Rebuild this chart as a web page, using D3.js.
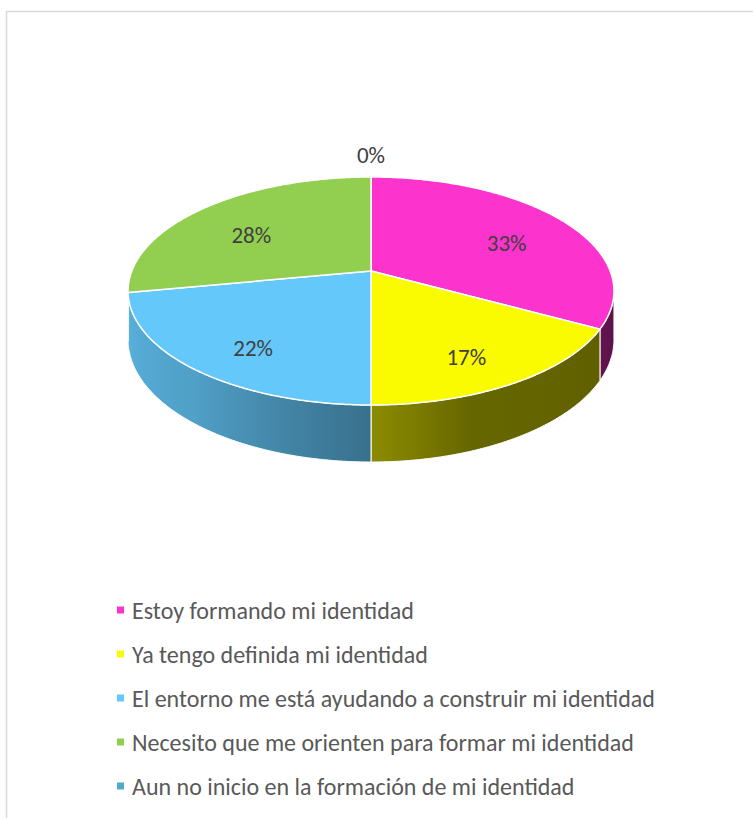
<!DOCTYPE html>
<html>
<head>
<meta charset="utf-8">
<script src="https://cdn.jsdelivr.net/npm/d3@7"></script>
<style>
  html, body { margin: 0; padding: 0; background: #fff; }
  svg { display: block; }
  text { font-family: Carlito, Calibri, Lato, "Open Sans", sans-serif; }
</style>
</head>
<body>
<svg id="chart" width="753" height="818"></svg>
<script>
// ---- data ----
const categories = [
  "Estoy formando mi identidad",
  "Ya tengo definida mi identidad",
  "El entorno me está ayudando a construir mi identidad",
  "Necesito que me orienten para formar mi identidad",
  "Aun no inicio en la formación de mi identidad"
];
const values = [33, 17, 22, 28, 0];
const labels = ["33%", "17%", "22%", "28%", "0%"];
const colors = ["#fc33cc", "#fafa00", "#64c8fa", "#92cf50", "#4bacc6"];

// ---- layout constants ----
const svg = d3.select("#chart");
const cx = 371, cy = 271;       // projected pie centre
const A = 239.2, B = 110.5;     // horizontal / vertical radii factors
const K = 0.1754;               // perspective factor
const DEPTH = 47;               // slab thickness

function proj(theta, r, z) {
  const u = r * Math.sin(theta), w = r * Math.cos(theta);
  const s = 1 / (1 + K * w);
  return [cx + A * u * s, cy - B * w * s + z * s];
}
function arcPts(a, b, r, z) {
  const n = Math.max(2, Math.ceil(Math.abs(b - a) / (Math.PI / 360)));
  return d3.range(n + 1).map(i => proj(a + (b - a) * i / n, r, z));
}

// chart border
svg.append("rect")
  .attr("x", 6.5).attr("y", 11.5).attr("width", 780).attr("height", 840)
  .attr("fill", "none").attr("stroke", "#d9d9d9").attr("stroke-width", 1.5);

const pie = d3.pie().sort(null).value(d => d).startAngle(0).endAngle(2 * Math.PI);
const arcs = pie(values);

const line = d3.line();
const deg = Math.PI / 180;
const shade = d3.scaleLinear()
  .domain([100, 160, 180, 220, 260].map(d => d * deg))
  .range([0.37, 0.41, 0.56, 0.80, 0.89])
  .clamp(true);

const visA = Math.acos(-K), visB = 2 * Math.PI - Math.acos(-K);
const defs = svg.append("defs");

// ---- sides ----
const gSide = svg.append("g");
arcs.forEach((d, i) => {
  const a = Math.max(d.startAngle, visA), b = Math.min(d.endAngle, visB);
  if (b <= a) return;
  const x1 = proj(a, 1, 0)[0], x2 = proj(b, 1, 0)[0];
  const gid = "sg" + i;
  const grad = defs.append("linearGradient").attr("id", gid)
    .attr("gradientUnits", "userSpaceOnUse")
    .attr("x1", x1).attr("x2", x2).attr("y1", 0).attr("y2", 0);
  const base = d3.rgb(colors[i]);
  const N = 12;
  d3.range(N + 1).forEach(j => {
    const t = a + (b - a) * j / N;
    const x = proj(t, 1, 0)[0];
    const f = shade(t);
    const off = Math.abs(x2 - x1) < 1e-6 ? 0 : (x - x1) / (x2 - x1);
    grad.append("stop").attr("offset", Math.max(0, Math.min(1, off)))
      .attr("stop-color", d3.rgb(base.r * f, base.g * f, base.b * f).formatHex());
  });
  const pts = arcPts(a, b, 1, 0).concat(arcPts(b, a, 1, DEPTH));
  gSide.append("path")
    .attr("d", line(pts) + "Z")
    .attr("fill", `url(#${gid})`)
    .attr("stroke", "#ffffff").attr("stroke-width", 1).attr("stroke-linejoin", "round");
});

// ---- top faces ----
const gTop = svg.append("g");
arcs.forEach((d, i) => {
  if (d.endAngle - d.startAngle <= 0) return;
  const pts = [proj(0, 0, 0)].concat(arcPts(d.startAngle, d.endAngle, 1, 0));
  gTop.append("path")
    .attr("d", line(pts) + "Z")
    .attr("fill", colors[i])
    .attr("stroke", "#ffffff").attr("stroke-width", 1.5).attr("stroke-linejoin", "round");
});

// ---- data labels ----
const gLab = svg.append("g");
arcs.forEach((d, i) => {
  const mid = (d.startAngle + d.endAngle) / 2;
  let p;
  if (d.value === 0) {
    const e = proj(mid % (2 * Math.PI), 1, 0);
    p = [e[0], e[1] - 22];
  } else {
    const r = 0.7;
    const s = 1 / (1 + K * r * Math.cos(mid));
    const q = proj(mid, r, 0);
    p = [q[0], q[1] + 10 * s];
  }
  gLab.append("text")
    .attr("x", p[0]).attr("y", p[1])
    .attr("text-anchor", "middle").attr("dominant-baseline", "central")
    .attr("font-size", "23px").attr("fill", "#404040")
    .text(labels[i]);
});

// ---- legend ----
const legY = d3.scalePoint().domain(categories).range([610, 786]);
const gLeg = svg.append("g");
categories.forEach((c, i) => {
  const y = legY(c);
  gLeg.append("rect")
    .attr("x", 117).attr("y", y - 3.5).attr("width", 7).attr("height", 7)
    .attr("fill", colors[i]);
  gLeg.append("text")
    .attr("x", 132).attr("y", y)
    .attr("dominant-baseline", "central")
    .attr("font-size", "24px").attr("fill", "#595959")
    .text(c);
});
</script>
</body>
</html>
